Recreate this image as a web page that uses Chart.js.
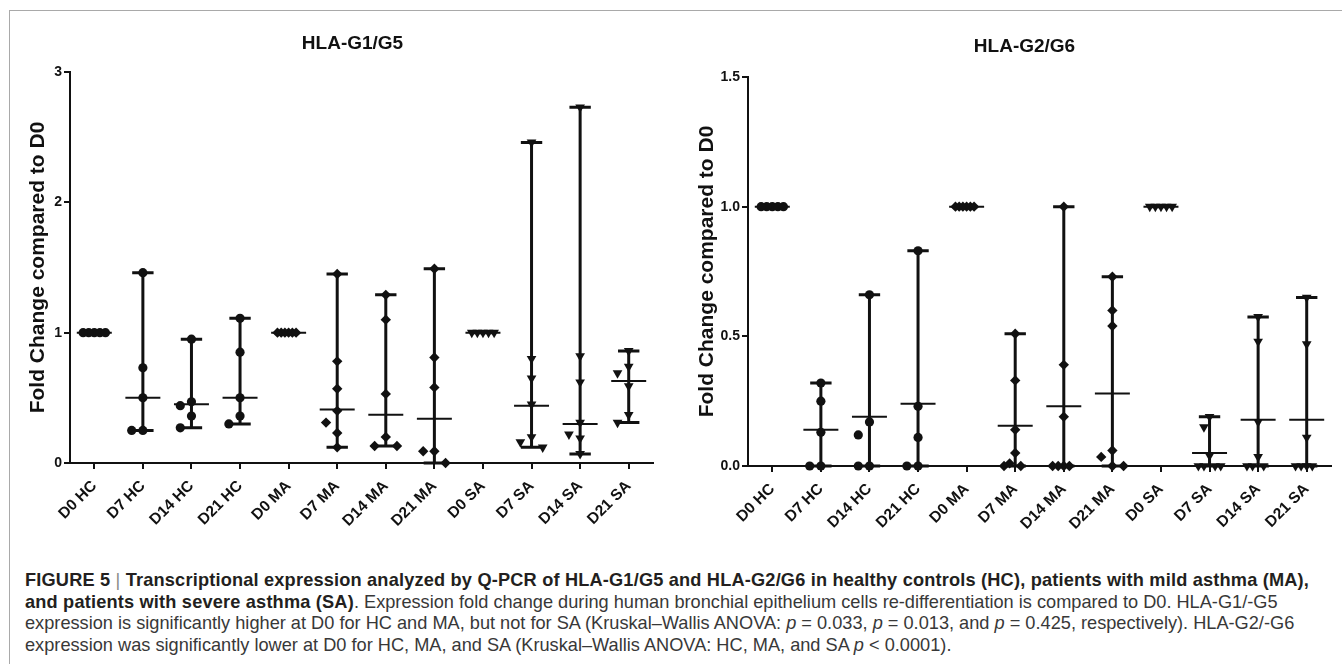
<!DOCTYPE html>
<html>
<head>
<meta charset="utf-8">
<title>HLA-G1/G5 and HLA-G2/G6</title>
<script src="https://cdn.jsdelivr.net/npm/chart.js@4.4.1/dist/chart.umd.min.js"></script>
<style>
  html, body { margin: 0; padding: 0; background: #fff; }
  body { width: 1342px; height: 664px; position: relative; overflow: hidden; font-family: "Liberation Sans", Arial, sans-serif; }
  .frame { position: absolute; left: 9px; top: 10px; right: -4px; bottom: -4px; border-left: 1.5px solid #a9a9a9; border-top: 1.5px solid #a9a9a9; }
  .box { position: absolute; top: 0; height: 560px; }
  #box1 { left: 0; width: 668px; }
  #box2 { left: 672px; width: 670px; }
  .caption { position: absolute; left: 25px; top: 570px; font-size: 18.2px; line-height: 21.5px; color: #383838; white-space: nowrap; }
  .caption b { color: #231f20; letter-spacing: 0.18px; }
  .caption .sep { font-weight: normal; color: #8a8a8a; }
</style>
</head>
<body>
<div class="frame"></div>
<div class="box" id="box1"><canvas id="chartG1"></canvas></div>
<div class="box" id="box2"><canvas id="chartG2"></canvas></div>
<div class="caption">
  <b>FIGURE 5 <span class="sep">|</span> Transcriptional expression analyzed by Q-PCR of HLA-G1/G5 and HLA-G2/G6 in healthy controls (HC), patients with mild asthma (MA),</b><br>
  <b>and patients with severe asthma (SA)</b>. Expression fold change during human bronchial epithelium cells re-differentiation is compared to D0. HLA-G1/-G5<br>
  expression is significantly higher at D0 for HC and MA, but not for SA (Kruskal–Wallis ANOVA: <i>p</i> = 0.033, <i>p</i> = 0.013, and <i>p</i> = 0.425, respectively). HLA-G2/-G6<br>
  expression was significantly lower at D0 for HC, MA, and SA (Kruskal–Wallis ANOVA: HC, MA, and SA <i>p</i> &lt; 0.0001).
</div>
<script>
// categories (group = suffix HC / MA / SA)
const categories = ['D0 HC', 'D7 HC', 'D14 HC', 'D21 HC', 'D0 MA', 'D7 MA', 'D14 MA', 'D21 MA', 'D0 SA', 'D7 SA', 'D14 SA', 'D21 SA'];

// HLA-G1/G5 : individual fold changes per category
const g1Points = [
  [1, 1, 1, 1, 1],
  [1.46, 0.73, 0.50, 0.25, 0.25],
  [0.95, 0.47, 0.44, 0.36, 0.27],
  [1.11, 0.85, 0.50, 0.36, 0.30],
  [1, 1, 1, 1, 1, 1],
  [1.45, 0.78, 0.57, 0.40, 0.31, 0.23, 0.12],
  [1.29, 1.10, 0.53, 0.20, 0.13, 0.13],
  [1.49, 0.81, 0.58, 0.09, 0.09, 0.0],
  [1, 1, 1, 1, 1],
  [2.46, 0.80, 0.65, 0.45, 0.20, 0.16, 0.12],
  [2.73, 0.82, 0.62, 0.31, 0.22, 0.19, 0.07],
  [0.86, 0.74, 0.69, 0.59, 0.37, 0.31]
];
// HLA-G1/G5 : horizontal centre line per category
const g1Centre = [1, 0.50, 0.45, 0.50, 1, 0.41, 0.37, 0.34, 1, 0.44, 0.30, 0.63];
const g1Ticks = [0, 1, 2, 3];

// HLA-G2/G6
const g2Points = [
  [1, 1, 1, 1, 1],
  [0.32, 0.25, 0.13, 0, 0],
  [0.66, 0.17, 0.12, 0, 0],
  [0.83, 0.23, 0.11, 0, 0],
  [1, 1, 1, 1, 1, 1],
  [0.51, 0.33, 0.14, 0.05, 0.01, 0, 0],
  [1.0, 0.39, 0.19, 0, 0, 0, 0],
  [0.73, 0.60, 0.54, 0.06, 0.035, 0, 0],
  [1, 1, 1, 1, 1],
  [0.19, 0.15, 0.04, 0, 0, 0, 0],
  [0.575, 0.48, 0.17, 0.035, 0, 0, 0],
  [0.65, 0.47, 0.11, 0, 0, 0, 0]
];
const g2Centre = [1, 0.14, 0.19, 0.24, 1, 0.155, 0.23, 0.28, 1, 0.05, 0.178, 0.178];
const g2Ticks = [0, 0.5, 1, 1.5];

const FONT = '"Liberation Sans", Arial, sans-serif';
const INK = '#111';

const symbols = {
  HC: { pointStyle: 'circle', radius: 4.6, rotation: 0 },
  MA: { pointStyle: 'rectRot', radius: 5.2, rotation: 0 },
  SA: { pointStyle: 'triangle', radius: 5.6, rotation: 180 }
};

// spread points that would overlap sideways (scatter dot plot style)
function spread(vals, yMax) {
  const step = 0.24;
  const tol = 14 / 390 * yMax;
  const placed = [];
  vals.forEach(v => {
    for (const k of [0, -1, 1, -2, 2, -3, 3, -4, 4]) {
      const dx = k * step;
      const hit = placed.some(p => Math.abs(p.dx - dx) < step * 0.9 && Math.abs(p.v - v) < tol);
      if (!hit) { placed.push({ v, dx }); break; }
    }
  });
  const maxOff = Math.max(...placed.map(p => Math.abs(p.dx)));
  const f = maxOff > 0.23 ? 0.23 / maxOff : 1;
  return placed.map(p => ({ dx: p.dx * f, v: p.v }));
}

function buildDatasets(points, yMax) {
  const groups = { HC: [], MA: [], SA: [] };
  points.forEach((vals, i) => {
    const g = categories[i].split(' ')[1];
    spread(vals, yMax).forEach(p => groups[g].push({ x: i + p.dx, y: p.v }));
  });
  return Object.keys(groups).map(g => ({
    label: g,
    data: groups[g],
    showLine: false,
    pointStyle: symbols[g].pointStyle,
    pointRadius: symbols[g].radius,
    pointRotation: symbols[g].rotation,
    pointBackgroundColor: INK,
    pointBorderColor: INK,
    pointBorderWidth: 0,
    clip: false
  }));
}

// range (min-max with caps) and centre line for each category
function rangePlugin(points, centre) {
  return {
    id: 'rangeBars',
    beforeDatasetsDraw(chart) {
      const { ctx, scales: { x, y } } = chart;
      ctx.save();
      ctx.strokeStyle = INK;
      points.forEach((vals, i) => {
        const lo = Math.min(...vals), hi = Math.max(...vals);
        const px = x.getPixelForValue(i);
        const cap = x.getPixelForValue(i + 0.22) - px;
        const mid = x.getPixelForValue(i + 0.36) - px;
        ctx.lineWidth = 3;
        ctx.beginPath();
        ctx.moveTo(px, y.getPixelForValue(lo));
        ctx.lineTo(px, y.getPixelForValue(hi));
        [lo, hi].forEach(v => {
          const py = y.getPixelForValue(v);
          ctx.moveTo(px - cap, py);
          ctx.lineTo(px + cap, py);
        });
        ctx.stroke();
        ctx.lineWidth = 2;
        const pm = y.getPixelForValue(centre[i]);
        ctx.beginPath();
        ctx.moveTo(px - mid, pm);
        ctx.lineTo(px + mid, pm);
        ctx.stroke();
      });
      ctx.restore();
    }
  };
}

function makeChart(id, title, points, centre, yTicks, decimals, lay) {
  const yMax = yTicks[yTicks.length - 1];
  return new Chart(document.getElementById(id), {
    type: 'scatter',
    data: { datasets: buildDatasets(points, yMax) },
    plugins: [rangePlugin(points, centre)],
    options: {
      responsive: true,
      maintainAspectRatio: false,
      animation: false,
      layout: { padding: { left: lay.padLeft, right: lay.padRight, top: 0, bottom: 0 } },
      plugins: {
        legend: { display: false },
        tooltip: { enabled: false },
        title: {
          display: true,
          text: title,
          color: INK,
          font: { family: FONT, size: 19, weight: 'bold' },
          padding: { top: lay.titleTop, bottom: lay.titleBottom }
        }
      },
      scales: {
        x: {
          type: 'linear',
          min: -0.5,
          max: 11.5,
          afterBuildTicks: ax => { ax.ticks = categories.map((_, i) => ({ value: i })); },
          afterFit: ax => { ax.height = lay.xHeight; },
          grid: { drawOnChartArea: false, drawTicks: true, tickLength: 6, color: INK, lineWidth: 2 },
          border: { color: INK, width: 2 },
          ticks: {
            autoSkip: false,
            minRotation: 45,
            maxRotation: 45,
            padding: 8,
            color: INK,
            font: { family: FONT, size: 15.5, weight: 'bold' },
            callback: v => categories[v]
          }
        },
        y: {
          min: 0,
          max: yMax,
          afterBuildTicks: ax => { ax.ticks = yTicks.map(v => ({ value: v })); },
          afterFit: ax => { ax.width = lay.yWidth; },
          grid: { drawOnChartArea: false, drawTicks: true, tickLength: 6, color: INK, lineWidth: 2 },
          border: { color: INK, width: 2 },
          ticks: {
            padding: 2,
            color: INK,
            font: { family: FONT, size: 14, weight: 'bold' },
            callback: v => v.toFixed(decimals)
          },
          title: {
            display: true,
            text: 'Fold Change compared to D0',
            color: INK,
            font: { family: FONT, size: 21, weight: 'bold' },
            padding: { top: lay.yTitlePad, bottom: 0 }
          }
        }
      }
    }
  });
}

makeChart('chartG1', 'HLA-G1/G5', g1Points, g1Centre, g1Ticks, 0,
  { padLeft: 52, padRight: 15, yWidth: 18, xHeight: 97, titleTop: 32, titleBottom: 17.2, yTitlePad: -26.6 });
makeChart('chartG2', 'HLA-G2/G6', g2Points, g2Centre, g2Ticks, 1,
  { padLeft: 46, padRight: 11, yWidth: 30, xHeight: 94, titleTop: 35.3, titleBottom: 18.9, yTitlePad: -23.6 });
</script>
</body>
</html>
